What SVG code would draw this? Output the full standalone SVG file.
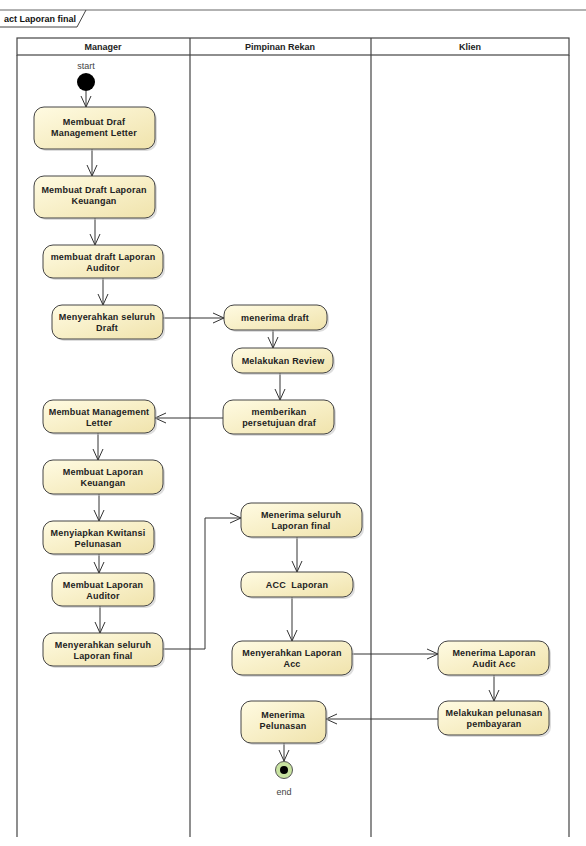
<svg xmlns="http://www.w3.org/2000/svg" width="586" height="846" viewBox="0 0 586 846">
<style>
.lane{fill:none;stroke:#444;stroke-width:1.2}
.hdr{font-family:"Liberation Sans",Arial,sans-serif;font-size:9px;font-weight:bold;fill:#222;text-anchor:middle}
.node rect{fill:url(#g);stroke:#444;stroke-width:1}
.node .sh{fill:#bbb;stroke:none;opacity:0.5}
.t{font-family:"Liberation Sans",Arial,sans-serif;font-size:9px;font-weight:bold;fill:#222;text-anchor:middle;letter-spacing:0.2px}
.lbl{font-family:"Liberation Sans",Arial,sans-serif;font-size:9px;fill:#444;text-anchor:middle}
.e{fill:none;stroke:#333;stroke-width:1;marker-end:url(#a)}
</style>
<defs>
<linearGradient id="g" x1="0" y1="0" x2="1" y2="1">
<stop offset="0" stop-color="#fffbe2"/>
<stop offset="1" stop-color="#f0e3ac"/>
</linearGradient>
<marker id="a" viewBox="0 0 12 12" refX="11" refY="6" markerWidth="12" markerHeight="12" markerUnits="userSpaceOnUse" orient="auto">
<path d="M0,1 L11,6 L0,11" fill="none" stroke="#333" stroke-width="1"/>
</marker>
</defs>
<rect x="0" y="0" width="586" height="846" fill="#fff"/>
<g id="frame">
<line x1="0" y1="10" x2="586" y2="10" stroke="#999" stroke-width="1.5"/>
<path d="M0,27 L77,27 L86,10" fill="none" stroke="#444" stroke-width="1"/>
<text x="4" y="22" font-family="Liberation Sans,Arial,sans-serif" font-size="9" font-weight="bold" fill="#111">act Laporan final</text>
</g>
<g id="lanes">
<rect x="17" y="38" width="552" height="17" fill="#fff" stroke="#444" stroke-width="1.2"/>
<line class="lane" x1="17" y1="55" x2="17" y2="837"/>
<line class="lane" x1="190" y1="38" x2="190" y2="837"/>
<line class="lane" x1="371" y1="38" x2="371" y2="837"/>
<line class="lane" x1="569" y1="55" x2="569" y2="837"/>
<text class="hdr" x="103" y="50">Manager</text>
<text class="hdr" x="280" y="50">Pimpinan Rekan</text>
<text class="hdr" x="470" y="50">Klien</text>
</g>
<g id="connectors">
<line class="e" x1="86" y1="91" x2="86" y2="107"/>
<line class="e" x1="92" y1="149" x2="92" y2="176"/>
<line class="e" x1="95" y1="218" x2="95" y2="245"/>
<line class="e" x1="103" y1="278" x2="103" y2="305"/>
<line class="e" x1="163" y1="318" x2="224" y2="318"/>
<line class="e" x1="273" y1="330" x2="273" y2="348"/>
<line class="e" x1="280" y1="373" x2="280" y2="400"/>
<line class="e" x1="223" y1="418" x2="155" y2="418"/>
<line class="e" x1="98" y1="433" x2="98" y2="460"/>
<line class="e" x1="99" y1="494" x2="99" y2="521"/>
<line class="e" x1="99" y1="554" x2="99" y2="573"/>
<line class="e" x1="100" y1="606" x2="100" y2="633"/>
<polyline class="e" points="163,649 205,649 205,518 241,518"/>
<line class="e" x1="297" y1="537" x2="297" y2="572"/>
<line class="e" x1="292" y1="597" x2="292" y2="641"/>
<line class="e" x1="352" y1="654" x2="438" y2="654"/>
<line class="e" x1="494" y1="675" x2="494" y2="701"/>
<line class="e" x1="438" y1="719" x2="326" y2="719"/>
<line class="e" x1="284" y1="743" x2="284" y2="761"/>
</g>
<g id="start">
<text class="lbl" x="86" y="69">start</text>
<circle cx="86" cy="82" r="9" fill="#000"/>
</g>
<g id="n1" class="node"><rect class="sh" x="36" y="109" width="121" height="42" rx="10"/><rect x="34" y="107" width="121" height="42" rx="10"/><text class="t" x="94" y="125">Membuat Draf</text><text class="t" x="94" y="136">Management Letter</text></g>
<g id="n2" class="node"><rect class="sh" x="36" y="178" width="121" height="42" rx="10"/><rect x="34" y="176" width="121" height="42" rx="10"/><text class="t" x="94" y="193">Membuat Draft Laporan</text><text class="t" x="94" y="204">Keuangan</text></g>
<g id="n3" class="node"><rect class="sh" x="45" y="247" width="120" height="33" rx="10"/><rect x="43" y="245" width="120" height="33" rx="10"/><text class="t" x="103" y="260">membuat draft Laporan</text><text class="t" x="103" y="271">Auditor</text></g>
<g id="n4" class="node"><rect class="sh" x="54" y="307" width="111" height="34" rx="10"/><rect x="52" y="305" width="111" height="34" rx="10"/><text class="t" x="107" y="320">Menyerahkan seluruh</text><text class="t" x="107" y="331">Draft</text></g>
<g id="n5" class="node"><rect class="sh" x="45" y="402" width="112" height="33" rx="10"/><rect x="43" y="400" width="112" height="33" rx="10"/><text class="t" x="99" y="415">Membuat Management</text><text class="t" x="99" y="426">Letter</text></g>
<g id="n6" class="node"><rect class="sh" x="226" y="307" width="103" height="25" rx="10"/><rect x="224" y="305" width="103" height="25" rx="10"/><text class="t" x="275" y="321">menerima draft</text></g>
<g id="n7" class="node"><rect class="sh" x="234" y="350" width="101" height="25" rx="10"/><rect x="232" y="348" width="101" height="25" rx="10"/><text class="t" x="283" y="364">Melakukan Review</text></g>
<g id="n8" class="node"><rect class="sh" x="225" y="402" width="111" height="34" rx="10"/><rect x="223" y="400" width="111" height="34" rx="10"/><text class="t" x="279" y="415">memberikan</text><text class="t" x="279" y="426">persetujuan draf</text></g>
<g id="n9" class="node"><rect class="sh" x="45" y="462" width="120" height="34" rx="10"/><rect x="43" y="460" width="120" height="34" rx="10"/><text class="t" x="103" y="475">Membuat Laporan</text><text class="t" x="103" y="486">Keuangan</text></g>
<g id="n10" class="node"><rect class="sh" x="45" y="523" width="111" height="33" rx="10"/><rect x="43" y="521" width="111" height="33" rx="10"/><text class="t" x="98" y="536">Menyiapkan Kwitansi</text><text class="t" x="98" y="547">Pelunasan</text></g>
<g id="n11" class="node"><rect class="sh" x="54" y="575" width="102" height="33" rx="10"/><rect x="52" y="573" width="102" height="33" rx="10"/><text class="t" x="103" y="588">Membuat Laporan</text><text class="t" x="103" y="599">Auditor</text></g>
<g id="n12" class="node"><rect class="sh" x="45" y="635" width="120" height="33" rx="10"/><rect x="43" y="633" width="120" height="33" rx="10"/><text class="t" x="103" y="648">Menyerahkan seluruh</text><text class="t" x="103" y="659">Laporan final</text></g>
<g id="n13" class="node"><rect class="sh" x="243" y="505" width="121" height="34" rx="10"/><rect x="241" y="503" width="121" height="34" rx="10"/><text class="t" x="301" y="518">Menerima seluruh</text><text class="t" x="301" y="529">Laporan final</text></g>
<g id="n14" class="node"><rect class="sh" x="243" y="574" width="112" height="25" rx="10"/><rect x="241" y="572" width="112" height="25" rx="10"/><text class="t" x="297" y="588" xml:space="preserve">ACC  Laporan</text></g>
<g id="n15" class="node"><rect class="sh" x="234" y="643" width="120" height="34" rx="10"/><rect x="232" y="641" width="120" height="34" rx="10"/><text class="t" x="292" y="656">Menyerahkan Laporan</text><text class="t" x="292" y="667">Acc</text></g>
<g id="n16" class="node"><rect class="sh" x="440" y="643" width="111" height="34" rx="10"/><rect x="438" y="641" width="111" height="34" rx="10"/><text class="t" x="494" y="656">Menerima Laporan</text><text class="t" x="494" y="667">Audit Acc</text></g>
<g id="n17" class="node"><rect class="sh" x="440" y="703" width="111" height="34" rx="10"/><rect x="438" y="701" width="111" height="34" rx="10"/><text class="t" x="494" y="716">Melakukan pelunasan</text><text class="t" x="494" y="727">pembayaran</text></g>
<g id="n18" class="node"><rect class="sh" x="243" y="703" width="85" height="42" rx="10"/><rect x="241" y="701" width="85" height="42" rx="10"/><text class="t" x="283" y="718">Menerima</text><text class="t" x="283" y="729">Pelunasan</text></g>
<g id="end">
<circle cx="284" cy="770" r="8.5" fill="#c8e3a0" stroke="#555" stroke-width="1"/>
<circle cx="284" cy="770" r="4" fill="#000"/>
<text class="lbl" x="284" y="795">end</text>
</g>
</svg>
